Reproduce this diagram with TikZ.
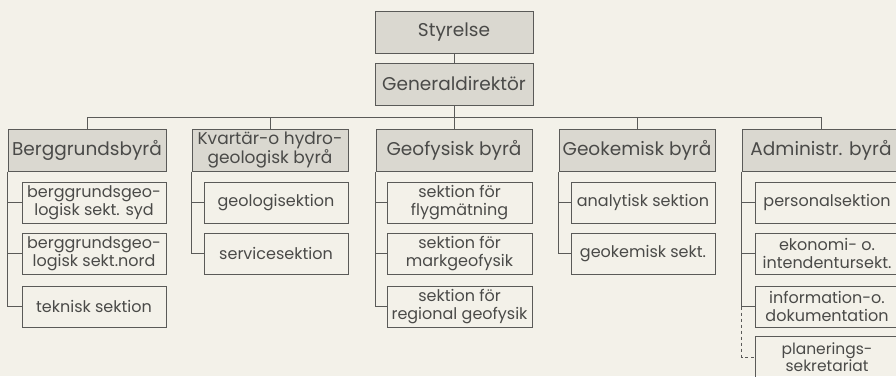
\documentclass[tikz,border=0pt]{standalone}
\usepackage{fontspec}
\setmainfont{Poppins}
\definecolor{bgc}{HTML}{F3F1E9}
\definecolor{boxc}{HTML}{DAD8D0}
\definecolor{linec}{HTML}{5A5A58}
\definecolor{textc}{HTML}{4A4A48}
\tikzset{
  every node/.style={text=textc},
  conn/.style={draw=linec, line width=1pt},
  topbox/.style={draw=linec, line width=1pt, fill=boxc, minimum width=158pt, minimum height=42pt, inner sep=0pt, font=\fontsize{18.5}{18.5}\selectfont, align=center},
  byrabox/.style={topbox, minimum width=156pt},
  secbox/.style={draw=linec, line width=1pt, minimum width=144pt, minimum height=41pt, inner sep=0pt, font=\fontsize{16}{17.5}\selectfont, align=center}
}
\begin{document}
\begin{tikzpicture}[x=1pt,y=-1pt]
\fill[bgc] (0,0) rectangle (896,376);
\clip (0,0) rectangle (896,376);
\useasboundingbox (0,0) rectangle (896,376);
% top
\node[topbox] (sty) at (454,32.5) {Styrelse};
\node[topbox] (gd) at (454,84) {Generaldirektör};
\coordinate (bar) at (454,117);
% byraer
\node[byrabox, minimum width=158pt] (b1) at (87,150) {Berggrundsbyrå};
\node[byrabox, font=\fontsize{17}{16.5}\selectfont] (b2) at (270,150) {Kvartär-o hydro-\\geologisk byrå};
\node[byrabox] (b3) at (454,150) {Geofysisk byrå};
\node[byrabox] (b4) at (637,150) {Geokemisk byrå};
\node[byrabox, minimum width=158pt] (b5) at (821,150) {Administr. byrå};
% connectors top
\draw[conn] (sty) -- (gd);
\draw[conn] (gd) -- (b3);
\draw[conn] (b1.north) -- (b1.north |- bar) -- (b5.north |- bar) -- (b5.north);
\draw[conn] (b2.north) -- (b2.north |- bar);
\draw[conn] (b4.north) -- (b4.north |- bar);
% sections col1
\node[secbox] (s11) at (94,202.5) {berggrundsgeo-\\logisk sekt. syd};
\node[secbox] (s12) at (94,253.5) {berggrundsgeo-\\logisk sekt.nord};
\node[secbox] (s13) at (94,306.5) {teknisk sektion};
% col2
\node[secbox] (s21) at (276,202.5) {geologisektion};
\node[secbox] (s22) at (276,253.5) {servicesektion};
% col3
\node[secbox, minimum width=145pt] (s31) at (459.5,202.5) {sektion för\\flygmätning};
\node[secbox, minimum width=145pt] (s32) at (459.5,253.5) {sektion för\\markgeofysik};
\node[secbox, minimum width=145pt] (s33) at (459.5,306.5) {sektion för\\regional geofysik};
% col4
\node[secbox] (s41) at (643,202.5) {analytisk sektion};
\node[secbox] (s42) at (643,253.5) {geokemisk sekt.};
% col5
\node[secbox] (s51) at (827,202.5) {personalsektion};
\node[secbox] (s52) at (827,253.5) {ekonomi- o.\\intendentursekt.};
\node[secbox] (s53) at (827,306.5) {information-o.\\dokumentation};
\node[secbox, font=\fontsize{15.5}{15}\selectfont] (s54) at (827,357) {planerings-\\sekretariat};
% trunks
\draw[conn] (b1.south west) |- (s13.west);
\draw[conn] (b1.south west |- s11.west) -- (s11.west);
\draw[conn] (b1.south west |- s12.west) -- (s12.west);
\draw[conn] (b2.south west) |- (s22.west);
\draw[conn] (b2.south west |- s21.west) -- (s21.west);
\draw[conn] (b3.south west) |- (s33.west);
\draw[conn] (b3.south west |- s31.west) -- (s31.west);
\draw[conn] (b3.south west |- s32.west) -- (s32.west);
\draw[conn] (b4.south west) |- (s42.west);
\draw[conn] (b4.south west |- s41.west) -- (s41.west);
\draw[conn] (b5.south west) |- (s53.west);
\draw[conn] (b5.south west |- s51.west) -- (s51.west);
\draw[conn] (b5.south west |- s52.west) -- (s52.west);
\draw[conn, dashed] (b5.south west |- s53.west) |- (s54.west);
\end{tikzpicture}
\end{document}
